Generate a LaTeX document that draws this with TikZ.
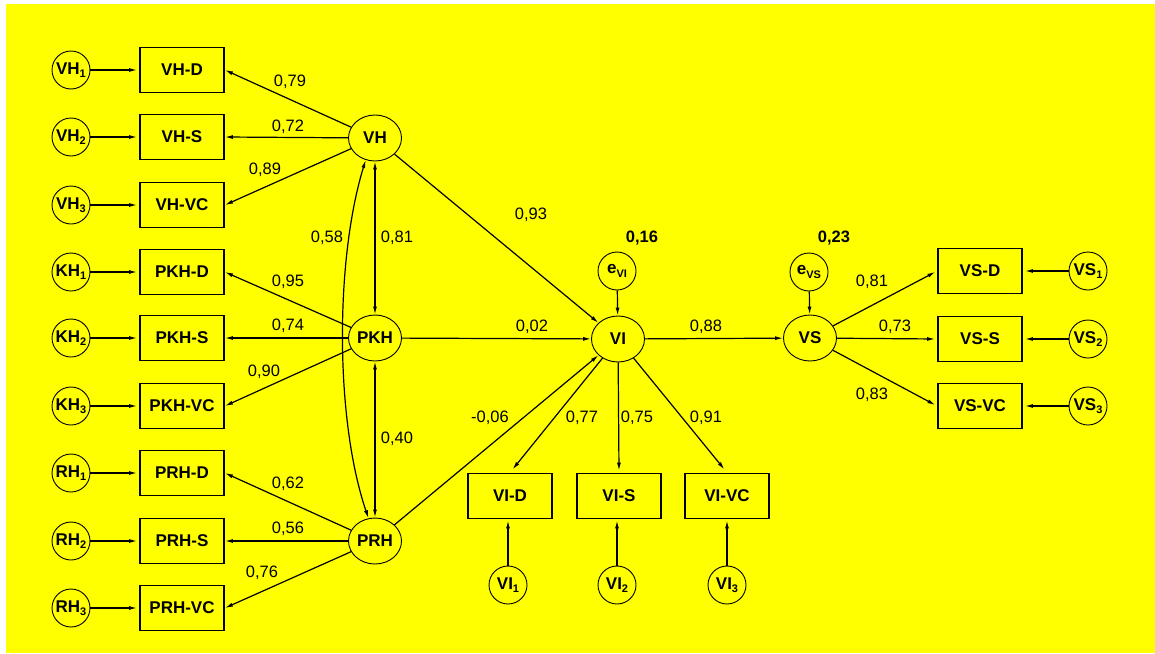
\documentclass[tikz,border=0pt]{standalone}
\usepackage{fontspec}
\setmainfont{Liberation Sans}
\usetikzlibrary{shapes.geometric,arrows.meta}
\definecolor{bgy}{RGB}{255,255,0}
\newcommand{\sbx}[1]{\raisebox{-3.5pt}{\fontsize{11}{11}\selectfont\bfseries #1}}
\begin{document}
\begin{tikzpicture}[x=1pt,y=-1pt,
  box/.style={draw,line width=1.8pt,minimum width=84pt,minimum height=45pt,inner sep=0pt,font=\fontsize{17}{19}\selectfont\bfseries},
  lat/.style={draw,ellipse,line width=0.9pt,minimum width=53pt,minimum height=46pt,inner sep=0pt,font=\fontsize{17}{19}\selectfont\bfseries},
  err/.style={draw,circle,line width=0.9pt,minimum size=38pt,inner sep=0pt,font=\fontsize{17}{19}\selectfont\bfseries},
  lbl/.style={font=\fontsize{16.5}{18}\selectfont,inner sep=0pt},
  blbl/.style={font=\fontsize{16.5}{18}\selectfont\bfseries,inner sep=0pt},
  arr/.style={line width=1.2pt,-{Latex[length=8pt,width=4pt]}},
  darr/.style={line width=1.2pt,{Latex[length=8pt,width=4pt]}-{Latex[length=8pt,width=4pt]}}
]
\useasboundingbox (0,0) rectangle (1155,653);
\fill[bgy] (6,4) rectangle (1155,653);

% left indicators
\node[box] (VHD) at (182,70) {VH-D};
\node[box] (VHS) at (182,137) {VH-S};
\node[box] (VHVC) at (182,205) {VH-VC};
\node[box] (PKHD) at (182,272) {PKH-D};
\node[box] (PKHS) at (182,338) {PKH-S};
\node[box] (PKHVC) at (182,406) {PKH-VC};
\node[box] (PRHD) at (182,473) {PRH-D};
\node[box] (PRHS) at (182,541) {PRH-S};
\node[box] (PRHVC) at (182,608) {PRH-VC};

\node[err] (e1) at (71,70) {VH\sbx{1}};
\node[err] (e2) at (71,137) {VH\sbx{2}};
\node[err] (e3) at (71,205) {VH\sbx{3}};
\node[err] (e4) at (71,272) {KH\sbx{1}};
\node[err] (e5) at (71,338) {KH\sbx{2}};
\node[err] (e6) at (71,406) {KH\sbx{3}};
\node[err] (e7) at (71,473) {RH\sbx{1}};
\node[err] (e8) at (71,541) {RH\sbx{2}};
\node[err] (e9) at (71,608) {RH\sbx{3}};

% latent
\node[lat] (VH) at (375,138) {VH};
\node[lat] (PKH) at (375,338) {PKH};
\node[lat] (PRH) at (375,541) {PRH};
\node[lat] (VI) at (618,339) {VI};
\node[lat] (VS) at (810,338) {VS};
\node[err] (eVI) at (617,271) {e\sbx{VI}};
\node[err] (eVS) at (809,272) {e\sbx{VS}};

% VI indicators
\node[box] (VID) at (510,496) {VI-D};
\node[box] (VIS) at (619,496) {VI-S};
\node[box] (VIVC) at (727,496) {VI-VC};
\node[err] (v1) at (508,585) {VI\sbx{1}};
\node[err] (v2) at (617,585) {VI\sbx{2}};
\node[err] (v3) at (727,585) {VI\sbx{3}};

% VS indicators
\node[box] (VSD) at (980,271) {VS-D};
\node[box] (VSS) at (980,339) {VS-S};
\node[box] (VSVC) at (980,406) {VS-VC};
\node[err] (s1) at (1088,271) {VS\sbx{1}};
\node[err] (s2) at (1088,339) {VS\sbx{2}};
\node[err] (s3) at (1088,406) {VS\sbx{3}};

% error arrows left
\foreach \a/\b in {e1/VHD,e2/VHS,e3/VHVC,e4/PKHD,e5/PKHS,e6/PKHVC,e7/PRHD,e8/PRHS,e9/PRHVC}
  \draw[arr,shorten >=2pt] (\a) -- (\b.west);

% loadings
\draw[arr] (VH) -- (VHD.east);
\draw[arr] (VH) -- (VHS.east);
\draw[arr] (VH) -- (VHVC.east);
\draw[arr] (PKH) -- (PKHD.east);
\draw[arr] (PKH) -- (PKHS.east);
\draw[arr] (PKH) -- (PKHVC.east);
\draw[arr] (PRH) -- (PRHD.east);
\draw[arr] (PRH) -- (PRHS.east);
\draw[arr] (PRH) -- (PRHVC.east);

% correlations
\draw[darr] (VH) -- (PKH);
\draw[darr] (PKH) -- (PRH);
\draw[darr] (VH.247) .. controls (335,260) and (335,420) .. (PRH.106);

% structural
\draw[arr] (VH) -- (VI);
\draw[arr] (PKH) -- (VI);
\draw[arr] (PRH) -- (VI);
\draw[arr] (VI) -- (VS);
\draw[arr] (eVI) -- (VI);
\draw[arr] (eVS) -- (VS);

\draw[arr,shorten >=4pt] (VI) -- (VID.north);
\draw[arr,shorten >=2pt] (VI) -- (VIS.north);
\draw[arr,shorten >=4pt] (VI) -- (VIVC.north);
\draw[arr,shorten >=1pt] (v1) -- (v1 |- VID.south);
\draw[arr,shorten >=1pt] (v2) -- (v2 |- VIS.south);
\draw[arr,shorten >=1pt] (v3) -- (v3 |- VIVC.south);

\draw[arr,shorten >=2pt] (VS) -- (VSD.west);
\draw[arr,shorten >=2pt] (VS) -- (VSS.west);
\draw[arr,shorten >=2pt] (VS) -- (VSVC.west);
\draw[arr,shorten >=2pt] (s1) -- (VSD.east);
\draw[arr,shorten >=2pt] (s2) -- (VSS.east);
\draw[arr,shorten >=2pt] (s3) -- (VSVC.east);

% labels
\node[lbl] (l1) at (290,82) {0,79};
\node[lbl] (l2) at (288,127) {0,72};
\node[lbl] (l3) at (265,170) {0,89};
\node[lbl] (l4) at (327,238) {0,58};
\node[lbl] (l5) at (397,238) {0,81};
\node[lbl] (l6) at (288,282) {0,95};
\node[lbl] (l7) at (288,326) {0,74};
\node[lbl] (l8) at (264,372) {0,90};
\node[lbl] (l9) at (397,439) {0,40};
\node[lbl] (l10) at (288,484) {0,62};
\node[lbl] (l11) at (288,529) {0,56};
\node[lbl] (l12) at (262,573) {0,76};
\node[lbl] (l13) at (531,215) {0,93};
\node[lbl] (l14) at (532,327) {0,02};
\node[lbl] (l15) at (490,418) {-0,06};
\node[lbl] (l16) at (582,418) {0,77};
\node[lbl] (l17) at (637,418) {0,75};
\node[lbl] (l18) at (706,418) {0,91};
\node[lbl] (l19) at (706,327) {0,88};
\node[lbl] (l20) at (872,282) {0,81};
\node[lbl] (l21) at (895,327) {0,73};
\node[lbl] (l22) at (872,395) {0,83};
\node[blbl] (b1) at (642,238) {0,16};
\node[blbl] (b2) at (834,238) {0,23};
\end{tikzpicture}
\end{document}
